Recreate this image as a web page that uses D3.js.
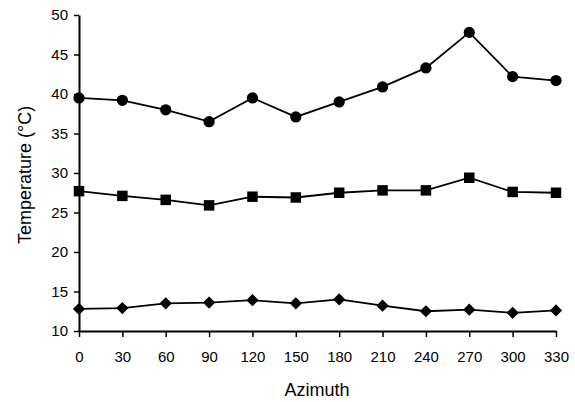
<!DOCTYPE html>
<html><head><meta charset="utf-8">
<script src="https://cdn.jsdelivr.net/npm/d3@7"></script>
<style>body{margin:0;background:#fff}svg{display:block}text{font-family:"Liberation Sans",Arial,sans-serif;fill:#000}</style>
</head><body><svg id="c" width="575" height="402"></svg>
<script>
const azimuth = [0,30,60,90,120,150,180,210,240,270,300,330];
const circleSeries = [39.5,39.2,38.0,36.5,39.5,37.1,39.0,40.9,43.3,47.8,42.2,41.7];
const squareSeries = [27.7,27.1,26.6,25.9,27.0,26.9,27.5,27.8,27.8,29.4,27.6,27.5];
const diamondSeries = [12.8,12.9,13.5,13.6,13.9,13.5,14.0,13.2,12.5,12.7,12.3,12.6];
const yTicks = [10,15,20,25,30,35,40,45,50];

const svg = d3.select("#c");
const x = d3.scaleLinear().domain([0,330]).range([79,556]);
const y = d3.scaleLinear().domain([10,50]).range([331,15]);

const xAxis = svg.append("g").attr("transform","translate(0,331)")
  .call(d3.axisBottom(x).tickValues(azimuth).tickSize(6).tickSizeOuter(0).tickPadding(14));
const yAxis = svg.append("g").attr("transform","translate(79,0)")
  .call(d3.axisLeft(y).tickValues(yTicks).tickSize(5).tickSizeOuter(0).tickPadding(6));
[xAxis,yAxis].forEach(a=>{
  a.select(".domain").attr("stroke","#000").attr("stroke-width",2);
  a.selectAll(".tick line").attr("stroke","#000").attr("stroke-width",1.5);
  a.selectAll(".tick text").attr("font-size",15).attr("font-family","Liberation Sans, Arial, sans-serif");
});

svg.append("text").attr("x",317).attr("y",396).attr("text-anchor","middle").attr("font-size",18).text("Azimuth");
svg.append("text").attr("transform","translate(31,175) rotate(-90)").attr("text-anchor","middle").attr("font-size",18).text("Temperature (°C)");

const line = d3.line().x((d,i)=>x(azimuth[i])).y(d=>y(d));
const series = [
  {vals:circleSeries, sym:d3.symbolCircle, size:100, rot:0},
  {vals:squareSeries, sym:d3.symbolSquare, size:110, rot:0},
  {vals:diamondSeries, sym:d3.symbolSquare, size:75, rot:45}
];
series.forEach(s=>{
  svg.append("path").datum(s.vals).attr("d",line).attr("fill","none").attr("stroke","#000").attr("stroke-width",1.8);
  svg.append("g").selectAll("path").data(s.vals).join("path")
    .attr("transform",(d,i)=>`translate(${x(azimuth[i])},${y(d)}) rotate(${s.rot})`)
    .attr("d",d3.symbol().type(s.sym).size(s.size)).attr("fill","#000");
});
</script></body></html>
